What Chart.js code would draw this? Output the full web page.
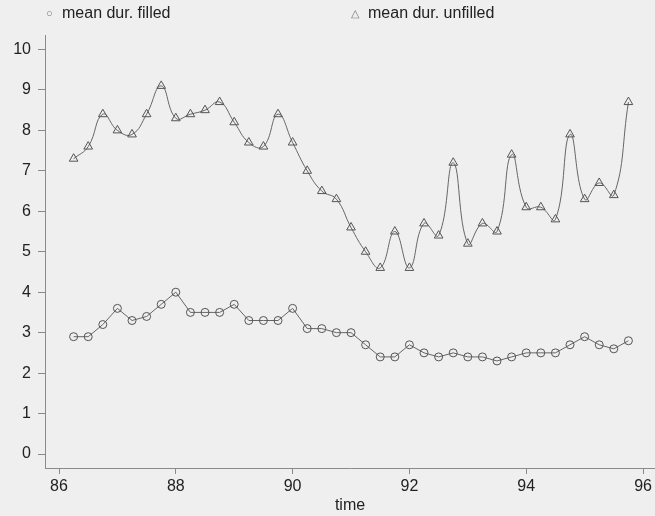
<!DOCTYPE html>
<html>
<head>
<meta charset="utf-8">
<script src="https://cdn.jsdelivr.net/npm/chart.js@4.4.0/dist/chart.umd.min.js"></script>
<style>
  html, body { margin: 0; padding: 0; background: #efefef; }
  #wrap { position: relative; width: 655px; height: 516px; }
  .leg { position: absolute; top: 4px; font: 16px "Liberation Sans", Arial, sans-serif; color: #222; white-space: nowrap; }
  .sym { position: absolute; top: 3px; color: #777; font-size: 11px; }
</style>
</head>
<body>
<div id="wrap">
  <canvas id="chart" width="655" height="516"></canvas>
  <div class="leg" style="left:62px"><span class="sym" style="left:-16px">○</span>mean dur. filled</div>
  <div class="leg" style="left:368px"><span class="sym" style="left:-17px">△</span>mean dur. unfilled</div>
</div>
<script>
// quarterly time points 86.25 .. 95.75
const times = [
  86.25, 86.5, 86.75, 87, 87.25, 87.5, 87.75, 88, 88.25, 88.5, 88.75, 89, 89.25,
  89.5, 89.75, 90, 90.25, 90.5, 90.75, 91, 91.25, 91.5, 91.75, 92, 92.25, 92.5,
  92.75, 93, 93.25, 93.5, 93.75, 94, 94.25, 94.5, 94.75, 95, 95.25, 95.5, 95.75
];
const meanDurFilled = [
  2.9, 2.9, 3.2, 3.6, 3.3, 3.4, 3.7, 4.0, 3.5, 3.5, 3.5, 3.7, 3.3,
  3.3, 3.3, 3.6, 3.1, 3.1, 3.0, 3.0, 2.7, 2.4, 2.4, 2.7, 2.5, 2.4,
  2.5, 2.4, 2.4, 2.3, 2.4, 2.5, 2.5, 2.5, 2.7, 2.9, 2.7, 2.6, 2.8
];
const meanDurUnfilled = [
  7.3, 7.6, 8.4, 8.0, 7.9, 8.4, 9.1, 8.3, 8.4, 8.5, 8.7, 8.2, 7.7,
  7.6, 8.4, 7.7, 7.0, 6.5, 6.3, 5.6, 5.0, 4.6, 5.5, 4.6, 5.7, 5.4,
  7.2, 5.2, 5.7, 5.5, 7.4, 6.1, 6.1, 5.8, 7.9, 6.3, 6.7, 6.4, 8.7
];
const xTicks = [86, 88, 90, 92, 94, 96];
const yTicks = [0, 1, 2, 3, 4, 5, 6, 7, 8, 9, 10];

const ink = '#666666';
const axisInk = '#8a8a8a';
const font = { family: '"Liberation Sans", Arial, sans-serif', size: 16 };

// paint the grey page colour onto the canvas too
const bgPlugin = {
  id: 'bg',
  beforeDraw(chart) {
    const c = chart.ctx;
    c.save();
    c.fillStyle = '#efefef';
    c.fillRect(0, 0, chart.width, chart.height);
    c.restore();
  }
};

new Chart(document.getElementById('chart'), {
  type: 'line',
  data: {
    datasets: [
      {
        label: 'mean dur. filled',
        data: times.map((t, i) => ({ x: t, y: meanDurFilled[i] })),
        borderColor: ink,
        borderWidth: 1,
        pointStyle: 'circle',
        pointRadius: 4,
        pointBorderColor: '#555',
        pointBorderWidth: 1,
        pointBackgroundColor: 'rgba(0,0,0,0)',
        tension: 0
      },
      {
        label: 'mean dur. unfilled',
        data: times.map((t, i) => ({ x: t, y: meanDurUnfilled[i] })),
        borderColor: ink,
        borderWidth: 1,
        pointStyle: 'triangle',
        pointRadius: 5,
        pointBorderColor: '#555',
        pointBorderWidth: 1,
        pointBackgroundColor: 'rgba(0,0,0,0)',
        tension: 0.45
      }
    ]
  },
  options: {
    responsive: false,
    animation: false,
    layout: { autoPadding: false, padding: { top: 35, right: 0, left: 0, bottom: 0 } },
    plugins: { legend: { display: false }, tooltip: { enabled: false } },
    scales: {
      x: {
        type: 'linear',
        min: 85.76,
        max: 96.205,
        afterBuildTicks: s => { s.ticks = xTicks.map(v => ({ value: v })); },
        afterFit: s => { s.height = 48; },
        grid: { drawOnChartArea: false, drawTicks: true, tickLength: 6, color: axisInk },
        border: { display: true, color: axisInk, width: 1 },
        ticks: { color: '#222', font: font, padding: 3, maxRotation: 0 },
        title: { display: true, text: 'time', color: '#222', font: font, padding: { top: 0, bottom: 1 } }
      },
      y: {
        min: -0.346,
        max: 10.358,
        afterBuildTicks: s => { s.ticks = yTicks.map(v => ({ value: v })); },
        afterFit: s => { s.width = 45; },
        grid: { drawOnChartArea: false, drawTicks: true, tickLength: 7, color: axisInk },
        border: { display: true, color: axisInk, width: 1 },
        ticks: { color: '#222', font: font, padding: 7 }
      }
    }
  },
  plugins: [bgPlugin]
});
</script>
</body>
</html>
